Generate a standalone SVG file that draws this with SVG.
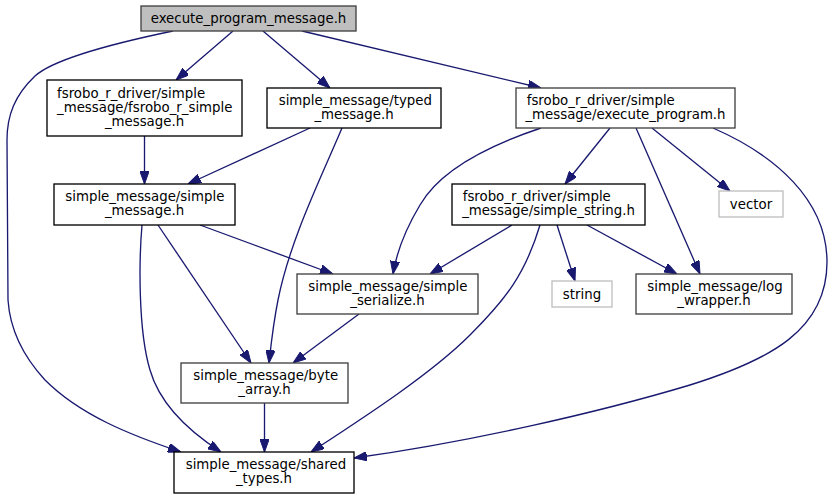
<svg xmlns="http://www.w3.org/2000/svg" width="832" height="499" viewBox="0 0 832 499">
<style>
.box{fill:#ffffff;stroke:#000000;stroke-width:1.33}
.gbox{fill:#ffffff;stroke:#404040;stroke-width:1.33}
.ext{fill:#ffffff;stroke:#bfbfbf;stroke-width:1.33}
.root{fill:#bfbfbf;stroke:#404040;stroke-width:1.33}
text{font-family:"DejaVu Sans","Liberation Sans",sans-serif;font-size:13.33px;fill:#000000}
.m{text-anchor:middle}
.e{fill:none;stroke:#191970;stroke-width:1.33;marker-end:url(#arr)}
</style>
<defs>
<marker id="arr" viewBox="0 0 13 9.4" refX="13" refY="4.7" markerWidth="13" markerHeight="9.4" markerUnits="userSpaceOnUse" orient="auto">
<path d="M0,0 L13,4.7 L0,9.4 z" fill="#191970" stroke="#191970" stroke-width="1"/>
</marker>
</defs>
<rect width="832" height="499" fill="#ffffff"/>
<g id="edges">
<path class="e" d="M173,31 C120,42 55,58 35,76 C15,95 7,115 7,140 L8,300 C10,330 22,355 45,380 C80,415 130,435 181,452"/>
<path class="e" d="M233,31 L176,80"/>
<path class="e" d="M263,31 L330,88"/>
<path class="e" d="M302,31 L541,88"/>
<path class="e" d="M144.5,136 L144.5,184"/>
<path class="e" d="M310,128 L188,184"/>
<path class="e" d="M342,128 C320,180 290,240 278,300 C273,325 271,345 269,363"/>
<path class="e" d="M541,128 C490,145 440,170 420,205 C405,230 397,250 393,274"/>
<path class="e" d="M610,128 L565,184"/>
<path class="e" d="M636,128 L700,274"/>
<path class="e" d="M652,128 L730,191"/>
<path class="e" d="M713,128 C775,155 827,200 827,262 C827,330 770,360 690,385 C600,412 470,442 354,458"/>
<path class="e" d="M142,225 C139,260 138,330 150,370 C160,405 190,432 221,452"/>
<path class="e" d="M158,225 L251,363"/>
<path class="e" d="M200,225 L333,274"/>
<path class="e" d="M512,225 L430,274"/>
<path class="e" d="M540,225 C525,275 505,300 470,335 C430,375 360,420 311,452"/>
<path class="e" d="M557,225 L575,281"/>
<path class="e" d="M587,225 L677,274"/>
<path class="e" d="M359,314 L293,363"/>
<path class="e" d="M264.5,403 L264.5,452"/>
</g>
<g id="n_root">
<rect class="root" x="141" y="6" width="215" height="25"/>
<text class="m" x="248.5" y="22.5">execute_program_message.h</text>
</g>
<g id="n_fsrobo_simple_message">
<rect class="box" x="47" y="80" width="195" height="56"/>
<text x="57" y="97.5">fsrobo_r_driver/simple</text>
<text x="57" y="111.5">_message/fsrobo_r_simple</text>
<text class="m" x="144.5" y="125.5">_message.h</text>
</g>
<g id="n_typed_message">
<rect class="box" x="267" y="88" width="174" height="40"/>
<text x="278.7" y="104.5">simple_message/typed</text>
<text class="m" x="354" y="118.5">_message.h</text>
</g>
<g id="n_execute_program">
<rect class="gbox" x="516" y="88" width="219" height="40"/>
<text x="526.7" y="104.5">fsrobo_r_driver/simple</text>
<text class="m" x="625.5" y="118.5">_message/execute_program.h</text>
</g>
<g id="n_simple_message">
<rect class="box" x="54" y="184" width="181" height="41"/>
<text x="65.3" y="201">simple_message/simple</text>
<text class="m" x="144.5" y="215">_message.h</text>
</g>
<g id="n_simple_string">
<rect class="box" x="452" y="184" width="193" height="41"/>
<text x="462.7" y="201">fsrobo_r_driver/simple</text>
<text class="m" x="548.5" y="215">_message/simple_string.h</text>
</g>
<g id="n_vector">
<rect class="ext" x="719" y="191" width="64" height="26"/>
<text class="m" x="751" y="208.5">vector</text>
</g>
<g id="n_simple_serialize">
<rect class="gbox" x="297" y="274" width="181" height="40"/>
<text x="308.3" y="290.5">simple_message/simple</text>
<text class="m" x="387.5" y="304.5">_serialize.h</text>
</g>
<g id="n_string">
<rect class="ext" x="552" y="281" width="60" height="26"/>
<text class="m" x="582" y="298.5">string</text>
</g>
<g id="n_log_wrapper">
<rect class="gbox" x="636" y="274" width="156" height="40"/>
<text x="647.3" y="290.5">simple_message/log</text>
<text class="m" x="714" y="304.5">_wrapper.h</text>
</g>
<g id="n_byte_array">
<rect class="gbox" x="181" y="363" width="167" height="40"/>
<text x="193.3" y="379.5">simple_message/byte</text>
<text class="m" x="264.5" y="393.5">_array.h</text>
</g>
<g id="n_shared_types">
<rect class="box" x="174" y="452" width="180" height="41"/>
<text x="185.7" y="469">simple_message/shared</text>
<text class="m" x="264" y="483">_types.h</text>
</g>
</svg>
